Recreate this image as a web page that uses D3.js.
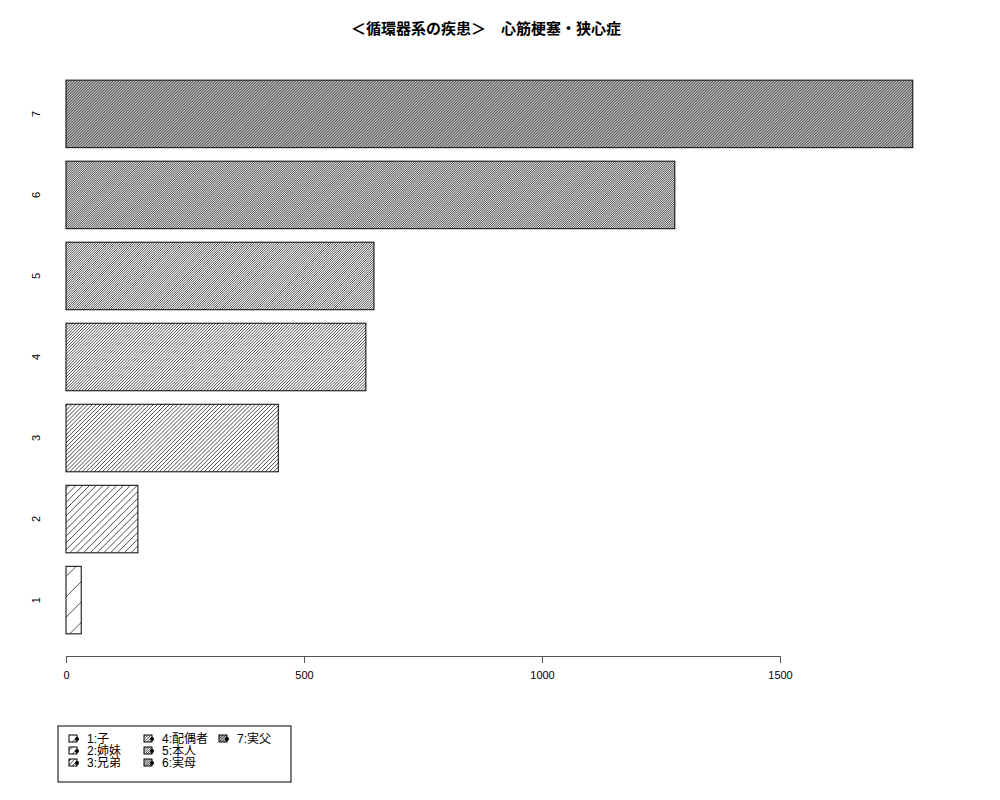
<!DOCTYPE html>
<html lang="ja">
<head>
<meta charset="UTF-8">
<title>心筋梗塞・狭心症</title>
<script src="https://d3js.org/d3.v7.min.js"></script>
<style>
    body { margin: 0; background: #fff; }
    svg { font-family: "Liberation Sans", Arial, "Noto Sans CJK JP", sans-serif; }
    .title { font-family: "Liberation Sans", "Noto Sans CJK JP", sans-serif; font-weight: bold; font-size: 15px; }
    .legend text { font-family: "Liberation Sans", "Noto Sans CJK JP", sans-serif; font-size: 12px; }
</style>
</head>
<body>
<svg id="chart" width="1000" height="800"></svg>
<script>
    // data
    const categories = ["1", "2", "3", "4", "5", "6", "7"];
    const values = [32, 151, 446, 630, 647, 1279, 1779];
    // hatch density (lines per inch, like R's density=)
    const densities = [5, 15, 25, 35, 45, 55, 65];
    const legendLabels = ["1:子", "2:姉妹", "3:兄弟", "4:配偶者", "5:本人", "6:実母", "7:実父"];
    const xTicks = [0, 500, 1000, 1500];
    const title = "＜循環器系の疾患＞　心筋梗塞・狭心症";

    const svg = d3.select("#chart");

    // plot region, R style: bars at 0.2 + i*1.2, width 1, 4% expansion
    const xScale = d3.scaleLinear().domain([0, 1500]).range([66, 780]);
    const yScale = d3.scaleLinear().domain([-0.128, 8.728]).range([656, 58]);

    const defs = svg.append("defs");
    let clipId = 0;

    // draw a box with "/" hatching, spacing from density (lines per inch at 72dpi)
    function hatchedBox(g, x, y, w, h, density) {
        const id = "clip" + (clipId++);
        defs.append("clipPath").attr("id", id)
            .append("rect").attr("x", x).attr("y", y).attr("width", w).attr("height", h);
        const step = (72 / density) * Math.SQRT2;
        const hg = g.append("g").attr("clip-path", `url(#${id})`);
        const cs = d3.range(x + y + step / 2, x + w + y + h, step);
        hg.selectAll("line")
            .data(cs)
            .enter()
            .append("line")
            .attr("x1", c => c - (y + h)).attr("y1", y + h)
            .attr("x2", c => c - y).attr("y2", y)
            .attr("stroke", "#000")
            .attr("stroke-width", 0.7);
        g.append("rect")
            .attr("x", x).attr("y", y)
            .attr("width", w).attr("height", h)
            .attr("fill", "none")
            .attr("stroke", "#000")
            .attr("stroke-width", 1);
    }

    const bars = categories.map((c, i) => ({ cat: c, value: values[i], i: i, y0: 0.2 + i * 1.2 }));

    const barG = svg.append("g");
    bars.forEach(d => {
        const x = xScale(0), y = yScale(d.y0 + 1);
        const w = xScale(d.value) - xScale(0);
        const h = yScale(d.y0) - yScale(d.y0 + 1);
        hatchedBox(barG, x, y, w, h, densities[d.i]);
    });

    // category names on side 2
    svg.append("g")
        .selectAll("text")
        .data(bars)
        .enter()
        .append("text")
        .attr("transform", d => `translate(40,${yScale(d.y0 + 0.5)}) rotate(-90)`)
        .attr("text-anchor", "middle")
        .attr("font-size", 11)
        .text(d => d.cat);

    // x axis
    const xAxis = svg.append("g")
        .attr("transform", `translate(0,${yScale(-0.128)})`)
        .call(d3.axisBottom(xScale).tickValues(xTicks).tickFormat(d3.format("d"))
            .tickSize(7).tickSizeOuter(0).tickPadding(8));
    xAxis.select(".domain").attr("stroke", "#555");
    xAxis.selectAll(".tick line").attr("stroke", "#555");
    xAxis.selectAll("text").attr("font-size", 11).attr("font-family", "Liberation Sans, Arial, sans-serif").attr("fill", "#000");

    svg.append("text")
        .attr("class", "title")
        .attr("x", 486)
        .attr("y", 34)
        .attr("text-anchor", "middle")
        .text(title);

    // legend
    const legend = svg.append("g").attr("class", "legend");
    legend.append("rect")
        .attr("x", 58).attr("y", 726)
        .attr("width", 233).attr("height", 56)
        .attr("fill", "none")
        .attr("stroke", "#000");

    const colX = [69, 144, 219];
    const rowY = [739, 751, 763];
    legendLabels.forEach((lab, i) => {
        const col = Math.floor(i / 3), row = i % 3;
        const gx = colX[col], gy = rowY[row];
        hatchedBox(legend, gx, gy - 4, 8, 7, densities[i]);
        legend.append("circle")
            .attr("cx", gx + 8).attr("cy", gy)
            .attr("r", 2)
            .attr("fill", "#000");
        legend.append("text")
            .attr("x", gx + 18)
            .attr("y", gy + 4)
            .text(lab);
    });
</script>
</body>
</html>
